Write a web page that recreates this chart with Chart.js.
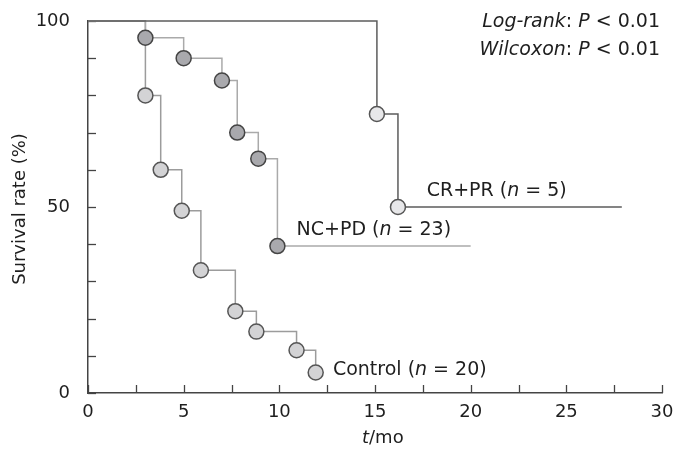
<!DOCTYPE html>
<html>
<head>
<meta charset="utf-8">
<script src="https://cdn.jsdelivr.net/npm/chart.js@4.4.1/dist/chart.umd.min.js"></script>
<style>
  body { margin: 0; background: #fff; }
  canvas { display: block; }
</style>
</head>
<body>
<canvas id="km" width="689" height="461"></canvas>
<script>
// survival curves, time in months / survival in %
const crprT = [0, 15.1, 16.2, 27.9];
const crprS = [100, 75, 50, 50];
const ncpdT = [0, 3, 5, 7, 7.8, 8.9, 9.9, 20];
const ncpdS = [100, 95.5, 90, 84, 70, 63, 39.5, 39.5];
const ctrlT = [0, 3, 3.8, 4.9, 5.9, 7.7, 8.8, 10.9, 11.9];
const ctrlS = [100, 80, 60, 49, 33, 22, 16.5, 11.5, 5.5];

// axis ticks
const xTicks = [0, 5, 10, 15, 20, 25, 30];
const xMinor = [0, 2.5, 5, 7.5, 10, 12.5, 15, 17.5, 20, 22.5, 25, 27.5, 30];
const yTicks = [0, 50, 100];
const yMinor = [0, 10, 20, 30, 40, 50, 60, 70, 80, 90, 100];

const FONT = "'DejaVu Sans', Verdana, sans-serif";

const toPts = (t, s) => t.map((v, i) => ({ x: v, y: s[i] }));
// no marker at the start or at the end of a censored tail
const marks = (t, tail) => t.map((v, i) => (i === 0 || (tail && i === t.length - 1)) ? 0 : 7.5);

// draws a line of text made of plain and italic pieces
function richText(ctx, parts, x, y, align, size) {
  size = size || 19;
  ctx.textBaseline = 'middle';
  ctx.textAlign = 'left';
  let total = 0;
  parts.forEach(p => {
    ctx.font = (p[1] ? 'italic ' : '') + size + 'px ' + FONT;
    total += ctx.measureText(p[0]).width;
  });
  let cx = align === 'right' ? x - total : x;
  parts.forEach(p => {
    ctx.font = (p[1] ? 'italic ' : '') + size + 'px ' + FONT;
    ctx.fillText(p[0], cx, y);
    cx += ctx.measureText(p[0]).width;
  });
}

const extras = {
  id: 'extras',
  beforeDatasetsDraw(chart) {
    const { ctx, scales: { x, y } } = chart;
    ctx.save();
    ctx.strokeStyle = '#444';
    ctx.lineWidth = 1.3;
    xMinor.forEach(v => {
      const px = Math.round(x.getPixelForValue(v)) + 0.5;
      ctx.beginPath();
      ctx.moveTo(px, y.bottom);
      ctx.lineTo(px, y.bottom - 8);
      ctx.stroke();
    });
    yMinor.forEach(v => {
      const py = Math.round(y.getPixelForValue(v)) + 0.5;
      ctx.beginPath();
      ctx.moveTo(x.left, py);
      ctx.lineTo(x.left + 8, py);
      ctx.stroke();
    });
    ctx.restore();
  },
  afterDraw(chart) {
    const { ctx, scales: { x, y } } = chart;
    ctx.save();
    ctx.fillStyle = '#1e1e1e';

    // axis titles
    richText(ctx, [['t', true], ['/mo', false]], 362, 438, 'left', 18);
    ctx.save();
    ctx.translate(20, 209);
    ctx.rotate(-Math.PI / 2);
    ctx.font = '18px ' + FONT;
    ctx.textAlign = 'center';
    ctx.textBaseline = 'middle';
    ctx.fillText('Survival rate (%)', 0, 0);
    ctx.restore();

    // group labels
    richText(ctx, [['CR+PR (', false], ['n', true], [' = 5)', false]],
      x.getPixelForValue(17.7), y.getPixelForValue(50) - 16, 'left');
    richText(ctx, [['NC+PD (', false], ['n', true], [' = 23)', false]],
      x.getPixelForValue(10.9), y.getPixelForValue(39.5) - 16, 'left');
    richText(ctx, [['Control (', false], ['n', true], [' = 20)', false]],
      x.getPixelForValue(12.8), y.getPixelForValue(6.3), 'left');

    // test results
    richText(ctx, [['Log-rank', true], [': ', false], ['P', true], [' < 0.01', false]], 660, 22, 'right');
    richText(ctx, [['Wilcoxon', true], [': ', false], ['P', true], [' < 0.01', false]], 660, 50, 'right');
    ctx.restore();
  }
};

new Chart(document.getElementById('km'), {
  type: 'line',
  data: {
    datasets: [
      {
        label: 'CR+PR',
        data: toPts(crprT, crprS),
        stepped: 'before',
        borderColor: '#5c5c5c',
        borderWidth: 1.5,
        pointRadius: marks(crprT, true),
        pointBackgroundColor: '#e7e7e9',
        pointBorderColor: '#555',
        pointBorderWidth: 1.5,
        clip: false
      },
      {
        label: 'NC+PD',
        data: toPts(ncpdT, ncpdS),
        stepped: 'before',
        borderColor: '#aaaaaa',
        borderWidth: 1.5,
        pointRadius: marks(ncpdT, true),
        pointBackgroundColor: '#a9a9ad',
        pointBorderColor: '#444',
        pointBorderWidth: 1.5,
        clip: false
      },
      {
        label: 'Control',
        data: toPts(ctrlT, ctrlS),
        stepped: 'before',
        borderColor: '#9c9c9c',
        borderWidth: 1.5,
        pointRadius: marks(ctrlT, false),
        pointBackgroundColor: '#d3d3d5',
        pointBorderColor: '#555',
        pointBorderWidth: 1.5,
        clip: false
      }
    ]
  },
  options: {
    responsive: false,
    animation: false,
    layout: { padding: { top: 21, right: 27, left: 0, bottom: 0 } },
    plugins: { legend: { display: false }, tooltip: { enabled: false } },
    scales: {
      x: {
        type: 'linear',
        min: 0,
        max: 30,
        afterBuildTicks: s => { s.ticks = xTicks.map(v => ({ value: v })); },
        afterFit: s => { s.height = 68; s.paddingLeft = 0; s.paddingRight = 0; },
        grid: { display: false, drawTicks: false },
        border: { color: '#444', width: 1.5 },
        ticks: { color: '#1e1e1e', padding: 9, maxRotation: 0, autoSkip: false, font: { family: FONT, size: 18 } }
      },
      y: {
        type: 'linear',
        min: 0,
        max: 100,
        afterBuildTicks: s => { s.ticks = yTicks.map(v => ({ value: v })); },
        afterFit: s => { s.width = 88; s.paddingTop = 0; s.paddingBottom = 0; },
        grid: { display: false, drawTicks: false },
        border: { color: '#444', width: 1.5 },
        ticks: { color: '#1e1e1e', padding: 18, autoSkip: false, font: { family: FONT, size: 18 } }
      }
    }
  },
  plugins: [extras]
});
</script>
</body>
</html>
